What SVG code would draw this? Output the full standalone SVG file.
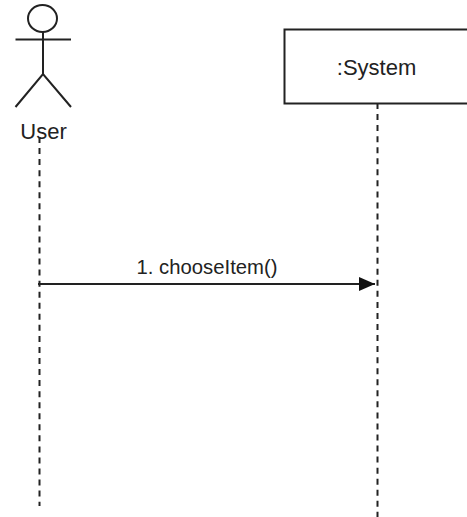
<svg xmlns="http://www.w3.org/2000/svg" width="467" height="517" viewBox="0 0 467 517">
<style>
.s{fill:none;stroke:#222;stroke-width:2}
.d{fill:none;stroke:#222;stroke-width:2;stroke-dasharray:6 5.050}
text{font-family:"Liberation Sans",Arial,sans-serif;fill:#222}
.l{font-size:22px;text-anchor:middle}
.m{font-size:20.300px;text-anchor:middle}
</style>
<defs><marker id="a" markerUnits="userSpaceOnUse" markerWidth="16" markerHeight="14" refX="16" refY="7" orient="auto"><path d="M0 0L16 7L0 14Z" fill="#111"/></marker></defs>
<rect width="467" height="517" fill="#fff"/>
<g id="connectors">
<path class="d" d="M39.500 137V506"/>
<path class="d" d="M377.500 103V517"/>
<path class="s" d="M38 284H375" marker-end="url(#a)"/>
</g>
<g id="user">
<ellipse class="s" cx="42.500" cy="18.500" rx="14.500" ry="13.500"/>
<path class="s" d="M43 32V74M15.500 39.500H71M15.500 107L43 74L71 107"/>
<text class="l" x="43.500" y="139">User</text>
</g>
<g id="system">
<path d="M467 29.500H284.500V103.500H467" fill="#fff" stroke="#222" stroke-width="2"/>
<text class="l" x="376.500" y="75">:System</text>
</g>
<g id="message"><text class="m" x="207" y="274">1. chooseItem()</text></g>
</svg>
